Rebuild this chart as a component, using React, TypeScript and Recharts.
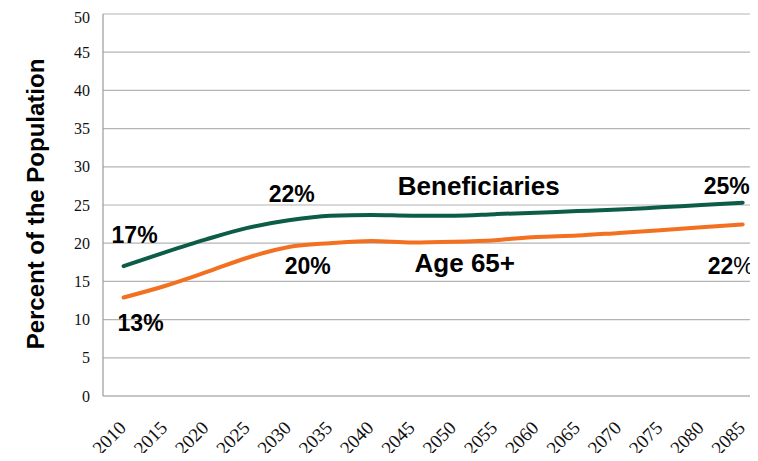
import { LineChart, Line, XAxis, YAxis, CartesianGrid, ReferenceDot, Label } from 'recharts'

const YEARS = ['2010', '2015', '2020', '2025', '2030', '2035', '2040', '2045', '2050', '2055', '2060', '2065', '2070', '2075', '2080', '2085']
const BENEFICIARIES = [17.0, 18.8, 20.5, 22.0, 23.0, 23.6, 23.7, 23.6, 23.6, 23.8, 24.0, 24.2, 24.4, 24.7, 25.0, 25.3]
const AGE_65 = [12.9, 14.4, 16.2, 18.1, 19.5, 20.0, 20.3, 20.1, 20.2, 20.4, 20.8, 21.0, 21.35, 21.7, 22.1, 22.45]
const Y_TICKS = [0, 5, 10, 15, 20, 25, 30, 35, 40, 45, 50]

// text callouts, anchored to a year/value with a small pixel nudge
const NOTES = [
  { year: '2010', value: 20.0, dx: 11, text: '17%', size: 23 },
  { year: '2010', value: 8.5, dx: 17, text: '13%', size: 23 },
  { year: '2030', value: 25.4, dx: 3, text: '22%', size: 23 },
  { year: '2030', value: 16.0, dx: 19, text: '20%', size: 23 },
  { year: '2050', value: 26.3, dx: 25, text: 'Beneficiaries', size: 26 },
  { year: '2050', value: 16.2, dx: 11, text: 'Age 65+', size: 26 },
  { year: '2085', value: 26.4, dx: -16, text: '25%', size: 23 },
  { year: '2085', value: 16.0, dx: -12, text: '22', size: 23, tail: '%' },
]

const GREEN = '#0c5c48'
const ORANGE = '#f37021'
const GRID = '#b4b4b4'
const SERIF = "'Liberation Serif', 'Times New Roman', serif"
const SANS = "'Liberation Sans', Arial, sans-serif"

const data = YEARS.map((year, i) => ({ year, ben: BENEFICIARIES[i], age: AGE_65[i] }))

const XTick = ({ x, y, payload }: any) => (
  <text
    x={x + 3.5}
    y={y + 33}
    transform={`rotate(-45, ${x + 3.5}, ${y + 33})`}
    textAnchor="end"
    fontFamily={SERIF}
    fontSize={19}
    fill="#111"
  >
    {payload.value}
  </text>
)

export default function App() {
  // outer box is shorter than the svg so the page never gets a scrollbar
  return (
    <div style={{ height: 445 }}>
      <LineChart width={750} height={453} data={data} margin={{ top: 6, right: 0, bottom: 0, left: 0 }}>
        <CartesianGrid vertical={false} stroke={GRID} strokeWidth={1.2} />
        <XAxis
          dataKey="year"
          scale="point"
          padding={{ left: 20.6, right: 15.3 }}
          height={65}
          tickLine={false}
          tickSize={0}
          tickMargin={0}
          axisLine={{ stroke: GRID, strokeWidth: 1.2 }}
          tick={<XTick />}
          interval={0}
        />
        <YAxis
          width={95}
          domain={[0, 50]}
          ticks={Y_TICKS}
          tickLine={false}
          tickSize={0}
          tickMargin={13}
          axisLine={{ stroke: '#9a9a9a', strokeWidth: 1.2 }}
          tick={{ fontFamily: SERIF, fontSize: 16, fill: '#111' }}
        >
          <Label
            content={() => (
              <text
                x={27}
                y={196}
                transform="rotate(-90, 27, 196)"
                textAnchor="middle"
                dominantBaseline="central"
                fontFamily={SANS}
                fontWeight="bold"
                fontSize={24}
                fill="#000"
              >
                Percent of the Population
              </text>
            )}
          />
        </YAxis>
        <Line type="monotone" dataKey="ben" stroke={GREEN} strokeWidth={4} strokeLinecap="round" dot={false} isAnimationActive={false} />
        <Line type="monotone" dataKey="age" stroke={ORANGE} strokeWidth={4} strokeLinecap="round" dot={false} isAnimationActive={false} />
        {NOTES.map((n, i) => (
          <ReferenceDot
            key={i}
            x={n.year}
            y={n.value}
            r={0}
            stroke="none"
            fill="none"
            label={(p: any) => (
              <text
                x={p.viewBox.x + n.dx}
                y={p.viewBox.y}
                textAnchor="middle"
                fontFamily={SANS}
                fontWeight="bold"
                fontSize={n.size}
                fill="#000"
              >
                {n.text}
                {n.tail && <tspan fontWeight="normal">{n.tail}</tspan>}
              </text>
            )}
          />
        ))}
      </LineChart>
    </div>
  )
}
